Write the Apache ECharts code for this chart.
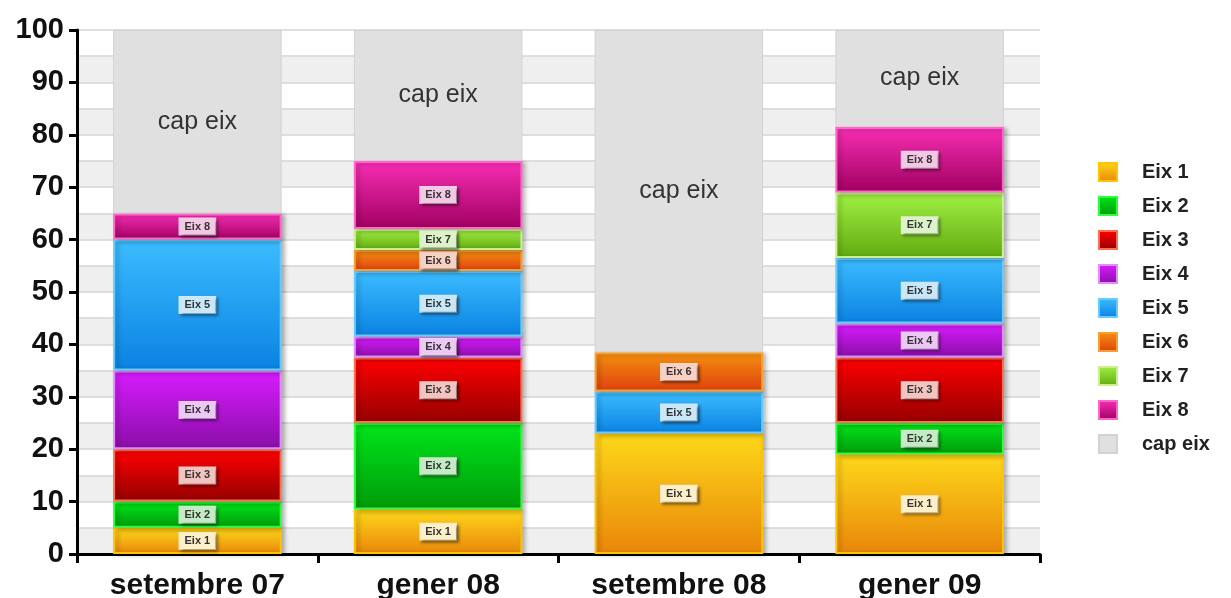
<!DOCTYPE html>
<html>
<head>
<meta charset="utf-8">
<script src="https://cdn.jsdelivr.net/npm/echarts@6/dist/echarts.min.js"></script>
<style>
html,body{margin:0;padding:0;background:#fff;}
#chart{width:1231px;height:598px;}
</style>
</head>
<body>
<div id="chart"></div>
<script>
const categories = ['setembre 07', 'gener 08', 'setembre 08', 'gener 09'];
const seriesNames = ['Eix 1', 'Eix 2', 'Eix 3', 'Eix 4', 'Eix 5', 'Eix 6', 'Eix 7', 'Eix 8', 'cap eix'];
const eix1 = [5, 8.5, 23, 19];
const eix2 = [5, 16.5, 0, 6];
const eix3 = [10, 12.5, 0, 12.5];
const eix4 = [15, 4, 0, 6.5];
const eix5 = [25, 12.5, 8, 12.5];
const eix6 = [0, 4, 7.5, 0];
const eix7 = [0, 4, 0, 12.5];
const eix8 = [5, 13, 0, 12.5];
const capEix = [35, 25, 61.5, 18.5];
const yTicks = [0, 10, 20, 30, 40, 50, 60, 70, 80, 90, 100];

const values = [eix1, eix2, eix3, eix4, eix5, eix6, eix7, eix8, capEix];
const styles = [
  {top: '#fdd81a', bottom: '#e9860a', border: '#ffc400', tint: '#fdf0c8'},
  {top: '#00e61a', bottom: '#009a0a', border: '#2cff3c', tint: '#c4ecc4'},
  {top: '#ff0000', bottom: '#950000', border: '#ff7050', tint: '#f2c4c0'},
  {top: '#d81cff', bottom: '#8a0ea8', border: '#e48cff', tint: '#ecc8f4'},
  {top: '#3cbcff', bottom: '#0a82e2', border: '#66ccff', tint: '#c8e8fa'},
  {top: '#f49010', bottom: '#e0400e', border: '#f7a030', tint: '#f8d0c4'},
  {top: '#a0f044', bottom: '#62aa10', border: '#c8f090', tint: '#dcf2c8'},
  {top: '#f72eb4', bottom: '#a00060', border: '#ff66c8', tint: '#f2c8e4'},
  null
];
const FONT = 'Liberation Sans, Arial, sans-serif';

const series = values.map((vals, i) => {
  const name = seriesNames[i];
  const st = styles[i];
  const data = vals.map(v => (v === 0 ? null : v));
  if (!st) {
    return {
      name, type: 'bar', stack: 'total', data, barWidth: '70%',
      itemStyle: {color: '#e0e0e0', borderColor: '#d2d2d2', borderWidth: 1},
      label: {show: true, position: 'inside', formatter: '{a}', fontFamily: FONT, fontSize: 25, color: '#333'}
    };
  }
  return {
    name, type: 'bar', stack: 'total', data, barWidth: '70%',
    itemStyle: {
      color: new echarts.graphic.LinearGradient(0, 0, 0, 1, [
        {offset: 0, color: st.top}, {offset: 1, color: st.bottom}
      ]),
      borderColor: st.border, borderWidth: 2,
      shadowColor: 'rgba(0,0,0,0.25)', shadowBlur: 4, shadowOffsetX: 3, shadowOffsetY: 1
    },
    label: {
      show: true, position: 'inside', formatter: '{a}',
      fontFamily: FONT, fontSize: 11, fontWeight: 'bold', color: '#333',
      backgroundColor: st.tint, borderColor: 'rgba(255,255,255,0.8)', borderWidth: 1,
      padding: [3, 5, 2, 5],
      shadowColor: 'rgba(0,0,0,0.45)', shadowBlur: 3, shadowOffsetX: 2, shadowOffsetY: 2
    }
  };
});

const chart = echarts.init(document.getElementById('chart'), null, {renderer: 'canvas'});
chart.setOption({
  animation: false,
  backgroundColor: '#ffffff',
  grid: {left: 77, right: 191, top: 30, bottom: 44, containLabel: false, outerBoundsMode: 'none'},
  legend: {
    orient: 'vertical', left: 1093, top: 157,
    icon: 'rect',
    itemWidth: 18, itemHeight: 18, itemGap: 14,
    data: seriesNames,
    textStyle: {fontFamily: FONT, fontSize: 20, fontWeight: 'bold', color: '#222', padding: [0, 0, 0, 20]}
  },
  xAxis: {
    type: 'category', data: categories,
    axisLine: {lineStyle: {color: '#000', width: 3}},
    axisTick: {show: true, length: 9, lineStyle: {color: '#000', width: 3}},
    axisLabel: {margin: 17, fontFamily: FONT, fontSize: 30, fontWeight: 'bold', color: '#111'},
    splitLine: {show: false}
  },
  yAxis: [{
    type: 'value', min: 0, max: 100, interval: 10,
    axisLine: {show: true, lineStyle: {color: '#000', width: 3}},
    axisTick: {show: true, length: 8, lineStyle: {color: '#000', width: 3}},
    axisLabel: {margin: 13, fontFamily: FONT, fontSize: 29, fontWeight: 'bold', color: '#111',
      formatter: v => (yTicks.indexOf(v) >= 0 ? String(v) : '')},
    splitLine: {show: false}
  }, {
    type: 'value', min: 0, max: 100, interval: 5, position: 'left',
    axisLine: {show: false}, axisTick: {show: false}, axisLabel: {show: false},
    splitLine: {show: true, lineStyle: {color: '#d4d4d4', width: 1.5}},
    splitArea: {show: true, areaStyle: {color: ['#efefef', '#ffffff']}}
  }],
  series
});
</script>
</body>
</html>
